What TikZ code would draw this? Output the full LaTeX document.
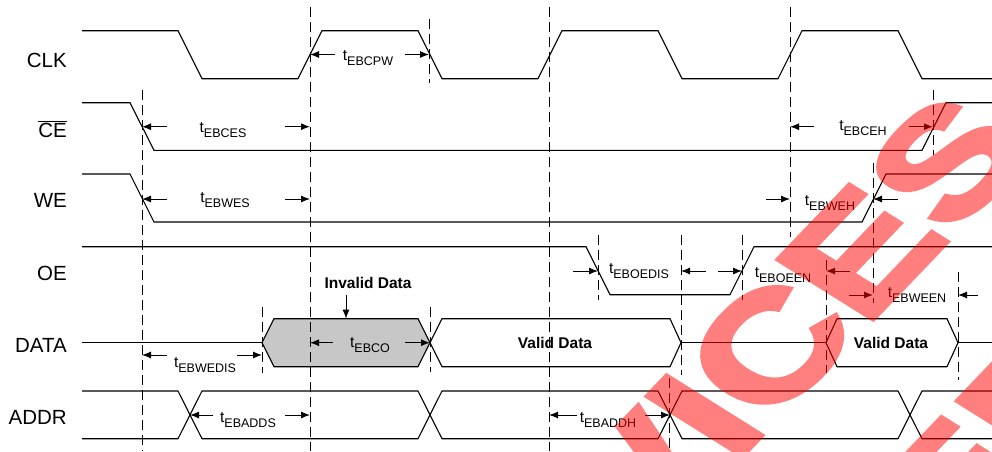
\documentclass[tikz,border=0pt]{standalone}
\usepackage{fontspec}
\setmainfont{Liberation Sans}
\newfontfamily\wmfont[FakeBold=3]{Liberation Sans}
\usetikzlibrary{arrows.meta}
\newcommand\tlab[1]{{\fontsize{15.5}{16}\selectfont t}\raisebox{-5pt}{\fontsize{12.5}{13}\selectfont #1}}
\begin{document}
\begin{tikzpicture}[x=1pt,y=-1pt,
  sig/.style={line width=1.1pt, line join=miter},
  guide/.style={line width=1pt, dash pattern=on 10pt off 5pt},
  dim/.style={line width=1pt, -{Latex[length=9pt,width=7pt]}},
  siglabel/.style={anchor=base east, inner sep=0pt, font=\fontsize{20.5}{21}\selectfont},
  tlabel/.style={anchor=base, inner sep=0pt},
  boldlab/.style={anchor=base, inner sep=0pt, font=\fontsize{15.5}{16}\selectfont\bfseries},
  wmark/.style={text=red, inner sep=0pt, anchor=base west,
    cm={0.9547,0.9978,-1.0095,0.6321,(0,0)}, transform shape,
    font=\wmfont\fontsize{137}{137}\selectfont\bfseries},
]
\useasboundingbox (0,0) rectangle (992,451);

% signal names
\node[siglabel] (lclk) at (67,67) {CLK};
\node[siglabel] (lce) at (67,137) {$\overline{\hbox{CE}}$};
\node[siglabel] (lwe) at (67,207) {WE};
\node[siglabel] (loe) at (67,280) {OE};
\node[siglabel] (ldata) at (67,352) {DATA};
\node[siglabel] (laddr) at (67,424) {ADDR};

% DATA fills
\filldraw[sig, fill=black!22] (262,342.7) -- (274,318.7) -- (418,318.7) -- (430,342.7) -- (418,366.7) -- (274,366.7) -- cycle;

% waveforms
\draw[sig] (82,30.7) -- (178,30.7) -- (202,78.7) -- (298,78.7) -- (322,30.7) -- (418,30.7) -- (442,78.7) -- (538,78.7) -- (562,30.7) -- (658,30.7) -- (682,78.7) -- (778,78.7) -- (802,30.7) -- (898,30.7) -- (922,78.7) -- (992,78.7);
\draw[sig] (82,102.7) -- (130,102.7) -- (154,150.3) -- (922,150.3) -- (946,102.7) -- (992,102.7);
\draw[sig] (82,174) -- (130,174) -- (154,222) -- (862,222) -- (886,174) -- (992,174);
\draw[sig] (82,246.7) -- (586,246.7) -- (610,294.7) -- (730,294.7) -- (754,246.7) -- (992,246.7);
\draw[sig] (82,342.7) -- (262,342.7);
\draw[sig] (430,342.7) -- (442,318.7) -- (670,318.7) -- (681,342.7) -- (670,366.7) -- (442,366.7) -- cycle;
\draw[sig] (681,342.7) -- (826,342.7);
\draw[sig] (826,342.7) -- (837,318.7) -- (947,318.7) -- (958,342.7) -- (947,366.7) -- (837,366.7) -- cycle;
\draw[sig] (958,342.7) -- (992,342.7);
\draw[sig] (82,391) -- (178,391) -- (202,438.7) -- (418,438.7) -- (442,391) -- (658,391) -- (682,438.7) -- (898,438.7) -- (922,391) -- (992,391);
\draw[sig] (82,438.7) -- (178,438.7) -- (202,391) -- (418,391) -- (442,438.7) -- (658,438.7) -- (682,391) -- (898,391) -- (922,438.7) -- (992,438.7);

% guide lines
\draw[guide] (142,90) -- (142,451);
\draw[guide] (310,7) -- (310,451);
\draw[guide] (429,19) -- (429,83);
\draw[guide] (430,307) -- (430,372);
\draw[guide] (549,7) -- (549,451);
\draw[guide] (790,7) -- (790,237);
\draw[guide] (933,90) -- (933,155);
\draw[guide] (873,163) -- (873,303);
\draw[guide] (598,235) -- (598,300);
\draw[guide] (681,235) -- (681,375);
\draw[guide] (742,235) -- (742,300);
\draw[guide] (826,260) -- (826,373);
\draw[guide] (958,272) -- (958,380);
\draw[guide] (262,307) -- (262,373);
\draw[guide] (669,378) -- (669,451);

% dimension arrows and labels
\draw[dim] (335,54.5) -- (310,54.5);
\draw[dim] (405,54.5) -- (429,54.5);
\node[tlabel] (tcpw) at (368,60) {\tlab{EBCPW}};

\draw[dim] (167,126.7) -- (142,126.7);
\draw[dim] (285,126.7) -- (310,126.7);
\node[tlabel] (tces) at (223,132) {\tlab{EBCES}};

\draw[dim] (167,199) -- (142,199);
\draw[dim] (285,199) -- (310,199);
\node[tlabel] (twes) at (225,202) {\tlab{EBWES}};

\draw[dim] (814,126.7) -- (790,126.7);
\draw[dim] (909,126.7) -- (933,126.7);
\node[tlabel] (tceh) at (863,130) {\tlab{EBCEH}};

\draw[dim] (766,199) -- (790,199);
\draw[dim] (898,199) -- (873,199);
\node[tlabel] (tweh) at (830,205) {\tlab{EBWEH}};

\draw[dim] (573,271) -- (598,271);
\draw[dim] (706,271) -- (681,271);
\node[tlabel] (toedis) at (639,273) {\tlab{EBOEDIS}};

\draw[dim] (718,271) -- (742,271);
\draw[dim] (850,271) -- (826,271);
\node[tlabel] (toeen) at (783,277) {\tlab{EBOEEN}};

\draw[dim] (849,295) -- (873,295);
\draw[dim] (978,295) -- (958,295);
\node[tlabel] (tween) at (917,297) {\tlab{EBWEEN}};

\draw[dim] (167,355) -- (142,355);
\draw[dim] (237,355) -- (262,355);
\node[tlabel] (twedis) at (205,367) {\tlab{EBWEDIS}};

\draw[dim] (333,342.7) -- (310,342.7);
\draw[dim] (405,342.7) -- (430,342.7);
\node[tlabel] (tco) at (370,347) {\tlab{EBCO}};

\draw[dim] (213,415) -- (190,415);
\draw[dim] (285,415) -- (310,415);
\node[tlabel] (tadds) at (248,422) {\tlab{EBADDS}};

\draw[dim] (577,415) -- (549,415);
\draw[dim] (645,415) -- (670,415);
\node[tlabel] (taddh) at (608,422) {\tlab{EBADDH}};

% data labels
\node[boldlab] (inv) at (368,288) {Invalid Data};
\draw[dim] (346,295) -- (346,318.7);
\node[boldlab] (v1) at (555,348) {Valid Data};
\node[boldlab] (v2) at (891,348) {Valid Data};

% watermark
\begin{scope}[transparency group, opacity=0.5]
  \begin{scope}[shift={(646.5,556)}]
    \node[wmark] (wm) at (0,0) {VICES};
  \end{scope}
  \begin{scope}[shift={(956.7,560.7)}]
    \node[wmark] (wm2) at (0,0) {ED};
  \end{scope}
\end{scope}
\end{tikzpicture}
\end{document}
